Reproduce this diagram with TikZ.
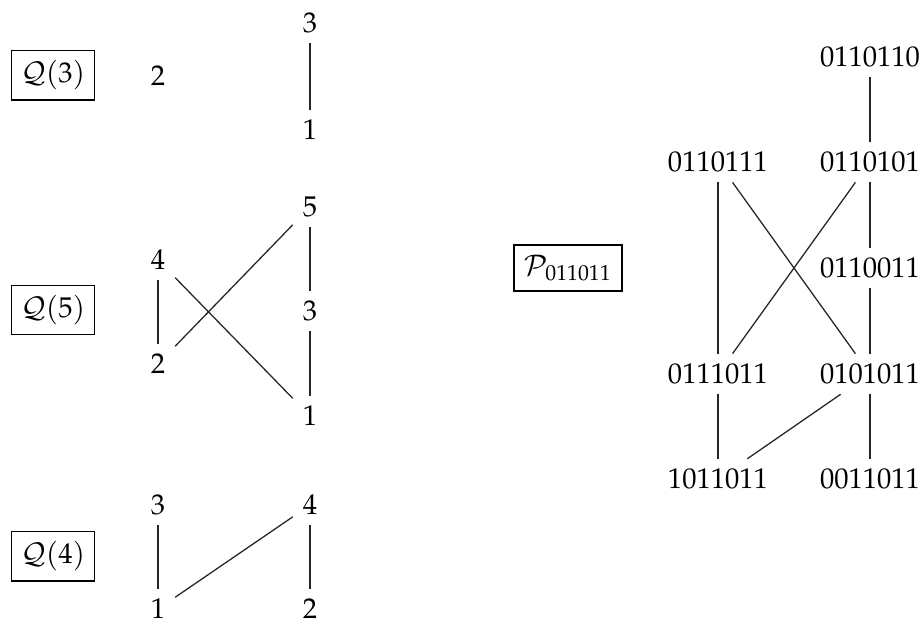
\documentclass[tikz,border=0pt]{standalone}
\usepackage[T1]{fontenc}
\usepackage{amsmath}
\usepackage{mathpazo}
\usepackage{tikz}
\usetikzlibrary{positioning}

\begin{document}
\begin{tikzpicture}[
    namebox/.style={draw, inner sep=3.5pt},
    elem/.style={inner sep=3.33pt},
    link/.style={draw=black!85, line width=0.45pt}
  ]
    \useasboundingbox (0,0) rectangle (11.365,-7.651);

    % Q(3)
    \node[namebox] (q3) at (0.652,-0.923) {$\mathcal{Q}(3)$};
    \node[elem] (a2) at (1.943,-0.935) {2};
    \node[elem] (a3) at (3.813,-0.283) {3};
    \node[elem] (a1) at (3.813,-1.599) {1};
    \draw[link] (a3) -- (a1);

    % Q(5)
    \node[namebox] (q5) at (0.652,-3.813) {$\mathcal{Q}(5)$};
    \node[elem] (b4) at (1.943,-3.198) {4};
    \node[elem] (b2) at (1.943,-4.477) {2};
    \node[elem] (b5) at (3.813,-2.546) {5};
    \node[elem] (b3) at (3.813,-3.825) {3};
    \node[elem] (b1) at (3.813,-5.117) {1};
    \draw[link] (b4) -- (b2);
    \draw[link] (b5) -- (b3);
    \draw[link] (b3) -- (b1);
    \draw[link] (b4) -- (b1);
    \draw[link] (b2) -- (b5);

    % Q(4)
    \node[namebox] (q4) at (0.652,-6.839) {$\mathcal{Q}(4)$};
    \node[elem] (c3) at (1.943,-6.212) {3};
    \node[elem] (c1) at (1.943,-7.491) {1};
    \node[elem] (c4) at (3.813,-6.212) {4};
    \node[elem] (c2) at (3.813,-7.491) {2};
    \draw[link] (c3) -- (c1);
    \draw[link] (c4) -- (c2);
    \draw[link] (c1) -- (c4);

    % P_011011
    \node[namebox] (pbox) at (6.987,-3.296) {$\mathcal{P}_{011011}$};
    \node[elem] (w0110110) at (10.701,-0.701) {0110110};
    \node[elem] (w0110111) at (8.831,-1.993) {0110111};
    \node[elem] (w0110101) at (10.701,-1.993) {0110101};
    \node[elem] (w0110011) at (10.701,-3.296) {0110011};
    \node[elem] (w0111011) at (8.831,-4.600) {0111011};
    \node[elem] (w0101011) at (10.701,-4.600) {0101011};
    \node[elem] (w1011011) at (8.831,-5.892) {1011011};
    \node[elem] (w0011011) at (10.701,-5.892) {0011011};

    \draw[link] (w0110110) -- (w0110101);
    \draw[link] (w0110111) -- (w0111011);
    \draw[link] (w0110111) -- (w0101011);
    \draw[link] (w0110101) -- (w0111011);
    \draw[link] (w0110101) -- (w0110011);
    \draw[link] (w0110011) -- (w0101011);
    \draw[link] (w0111011) -- (w1011011);
    \draw[link] (w0101011) -- (w1011011);
    \draw[link] (w0101011) -- (w0011011);
  \end{tikzpicture}
\end{document}
